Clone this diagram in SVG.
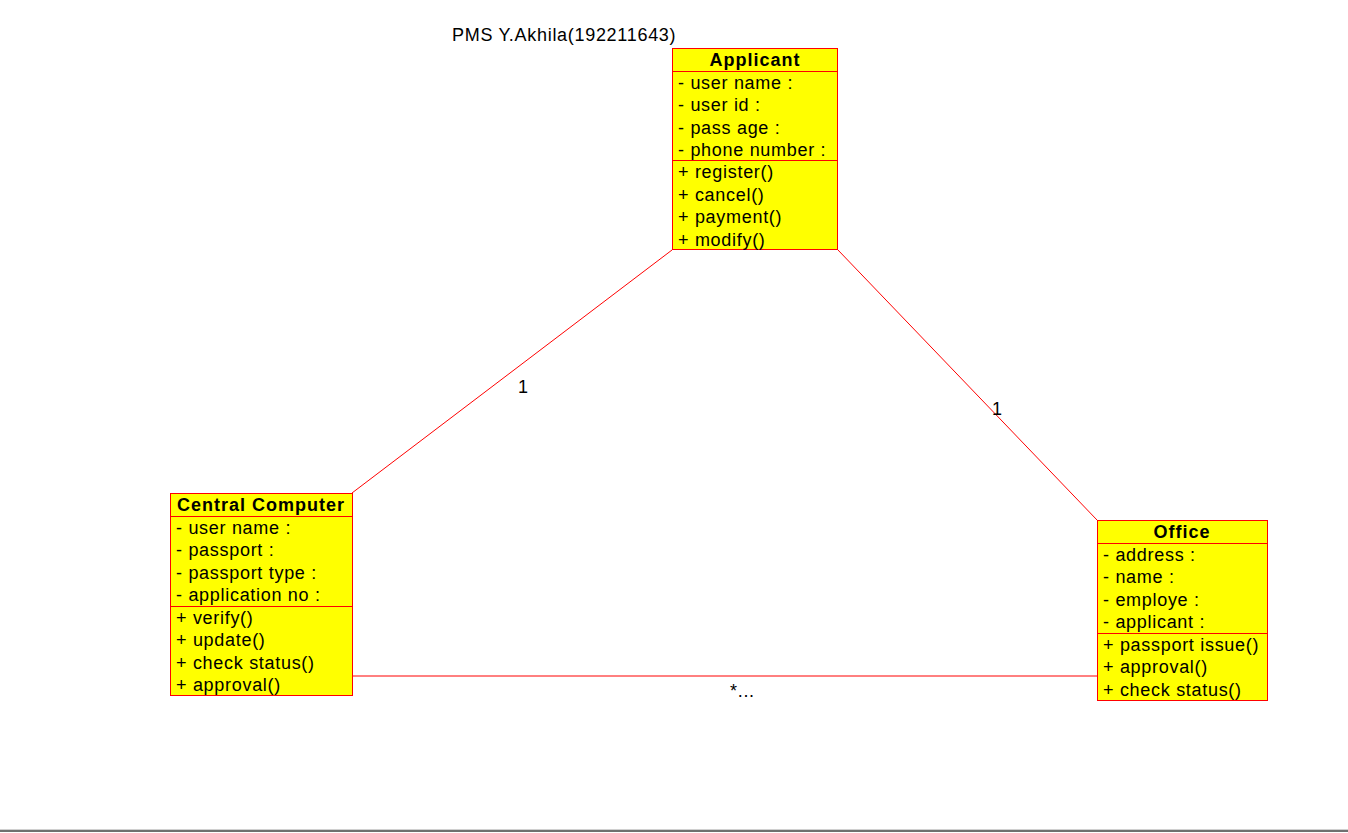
<svg xmlns="http://www.w3.org/2000/svg" width="1348" height="833" viewBox="0 0 1348 833">
<style>
.box{fill:#ffff00;stroke:#ff0000;stroke-width:1}
.sep{stroke:#ff0000;stroke-width:1}
text{font-family:"Liberation Sans",Arial,sans-serif;font-size:18px;fill:#000;letter-spacing:0.7px}
.h{font-weight:bold;text-anchor:middle;letter-spacing:1px}
.conn{stroke:#ff0000;stroke-width:1;fill:none}
</style>
<rect width="1348" height="833" fill="#fff"/>
<text x="452" y="41">PMS Y.Akhila(192211643)</text>
<g id="connectors">
<line class="conn" x1="672" y1="250" x2="352" y2="493"/>
<line class="conn" x1="838" y1="250" x2="1097" y2="520"/>
<line class="conn" x1="352" y1="676" x2="1097" y2="676"/>
<text x="518" y="393">1</text>
<text x="992" y="415">1</text>
<text x="730" y="697">*...</text>
</g>
<g id="applicant">
<rect class="box" x="672.5" y="48.5" width="165" height="201"/>
<line class="sep" x1="672" y1="71.5" x2="838" y2="71.5"/>
<line class="sep" x1="672" y1="160.5" x2="838" y2="160.5"/>
<text class="h" x="755" y="66">Applicant</text>
<text x="678" y="89">- user name :</text>
<text x="678" y="111">- user id :</text>
<text x="678" y="134">- pass age :</text>
<text x="678" y="156">- phone number :</text>
<text x="678" y="178">+ register()</text>
<text x="678" y="201">+ cancel()</text>
<text x="678" y="223">+ payment()</text>
<text x="678" y="246">+ modify()</text>
</g>
<g id="central">
<rect class="box" x="170.5" y="493.5" width="182" height="202"/>
<line class="sep" x1="170" y1="516.5" x2="352" y2="516.5"/>
<line class="sep" x1="170" y1="606.5" x2="352" y2="606.5"/>
<text class="h" x="261" y="511">Central Computer</text>
<text x="176" y="534">- user name :</text>
<text x="176" y="556">- passport :</text>
<text x="176" y="579">- passport type :</text>
<text x="176" y="601">- application no :</text>
<text x="176" y="624">+ verify()</text>
<text x="176" y="646">+ update()</text>
<text x="176" y="669">+ check status()</text>
<text x="176" y="691">+ approval()</text>
</g>
<g id="office">
<rect class="box" x="1097.5" y="520.5" width="170" height="180"/>
<line class="sep" x1="1097" y1="543.5" x2="1267" y2="543.5"/>
<line class="sep" x1="1097" y1="633.5" x2="1267" y2="633.5"/>
<text class="h" x="1182" y="538">Office</text>
<text x="1103" y="561">- address :</text>
<text x="1103" y="583">- name :</text>
<text x="1103" y="606">- employe :</text>
<text x="1103" y="628">- applicant :</text>
<text x="1103" y="651">+ passport issue()</text>
<text x="1103" y="673">+ approval()</text>
<text x="1103" y="696">+ check status()</text>
</g>
<line x1="0" y1="829.5" x2="1348" y2="829.5" stroke="#d0d0d0"/>
<line x1="0" y1="831" x2="1348" y2="831" stroke="#707070" stroke-width="2"/>
</svg>
